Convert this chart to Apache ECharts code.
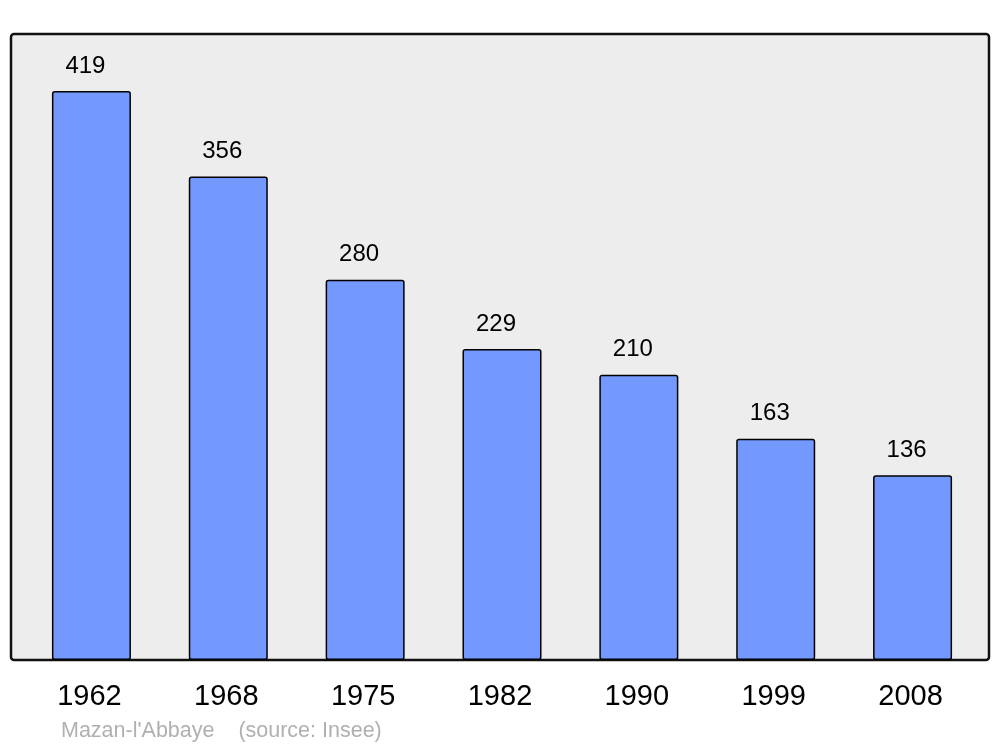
<!DOCTYPE html>
<html>
<head>
<meta charset="utf-8">
<script src="https://cdn.jsdelivr.net/npm/echarts@6/dist/echarts.min.js"></script>
<style>
  html, body { margin: 0; padding: 0; background: #fff; }
  #chart { width: 1000px; height: 747px; }
</style>
</head>
<body>
<div id="chart"></div>
<script>
const years = ['1962', '1968', '1975', '1982', '1990', '1999', '2008']
const population = [419, 356, 280, 229, 210, 163, 136]
const footer = "Mazan-l'Abbaye    (source: Insee)"

const chart = echarts.init(document.getElementById('chart'))

const option = {
  animation: false,
  textStyle: { fontFamily: 'Liberation Sans, Arial, sans-serif' },
  graphic: [
    {
      type: 'rect',
      z: -10,
      silent: true,
      shape: { x: 11, y: 34, width: 978, height: 626, r: 3 },
      style: { fill: '#ededed', stroke: '#111', lineWidth: 2.5 }
    },
    {
      type: 'text',
      left: 61,
      top: 720,
      silent: true,
      style: {
        text: footer,
        fill: '#b0b0b0',
        font: '21.5px "Liberation Sans", Arial, sans-serif'
      }
    }
  ],
  grid: {
    left: 23,
    right: 19,
    top: 34,
    bottom: 87,
    containLabel: false
  },
  xAxis: {
    type: 'category',
    data: years,
    axisLine: { show: false },
    axisTick: { show: false },
    axisLabel: {
      color: '#000',
      fontSize: 29,
      margin: 22,
      padding: [0, 4, 0, 0]
    }
  },
  yAxis: {
    type: 'value',
    min: 0,
    max: 461,
    show: false,
    splitLine: { show: false }
  },
  series: [{
    type: 'bar',
    data: population,
    barWidth: 79,
    itemStyle: {
      color: '#7399ff',
      borderColor: '#000',
      borderWidth: 1.5,
      borderRadius: 2
    },
    label: {
      show: true,
      position: 'top',
      distance: 13,
      offset: [-6, 0],
      color: '#000',
      fontSize: 24
    }
  }]
}

chart.setOption(option)
</script>
</body>
</html>
